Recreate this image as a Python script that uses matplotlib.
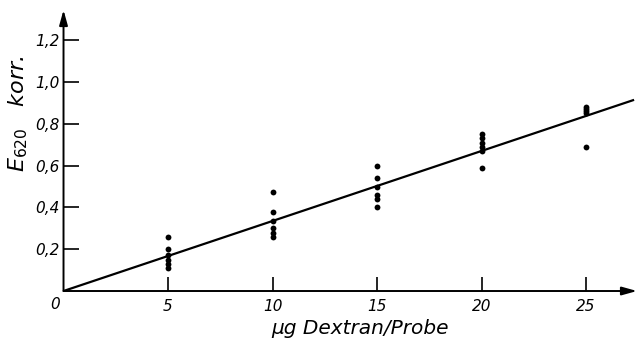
import matplotlib.pyplot as plt

plt.rcParams['font.family'] = ['DejaVu Sans']
plt.rcParams['mathtext.fontset'] = 'dejavusans'

# Messpunkte
x5 = [5] * 6
y5 = [0.26, 0.20, 0.17, 0.15, 0.13, 0.11]
x10 = [10] * 6
y10 = [0.475, 0.38, 0.335, 0.30, 0.28, 0.26]
x15 = [15] * 6
y15 = [0.60, 0.54, 0.50, 0.46, 0.44, 0.40]
x20 = [20] * 6
y20 = [0.75, 0.73, 0.71, 0.69, 0.67, 0.59]
x25 = [25] * 5
y25 = [0.88, 0.87, 0.86, 0.85, 0.69]

# Ausgleichsgerade
line_x = [0, 27.3]
line_y = [0, 0.915]

xticks = [5, 10, 15, 20, 25]
yticks = [0.2, 0.4, 0.6, 0.8, 1.0, 1.2]
ylabels = ['0,2', '0,4', '0,6', '0,8', '1,0', '1,2']

fig = plt.figure(figsize=(6.39, 3.45), dpi=100)
ax = fig.add_axes([0.0994, 0.1565, 0.8975, 0.8145])
ax.set_xlim(0, 27.44)
ax.set_ylim(0, 1.345)

ax.plot(line_x, line_y, color='black', lw=1.6, solid_capstyle='butt')
for xs, ys in [(x5, y5), (x10, y10), (x15, y15), (x20, y20), (x25, y25)]:
    ax.plot(xs, ys, 'o', color='black', ms=4.2, mec='none')

for sp in ax.spines.values():
    sp.set_visible(False)

# Achsen mit Pfeilen
ax.annotate('', xy=(1, 0), xytext=(0, 0), xycoords='axes fraction',
            arrowprops=dict(arrowstyle='-|>,head_length=0.9,head_width=0.25',
                            color='black', lw=1.4, shrinkA=0, shrinkB=0))
ax.annotate('', xy=(0, 1), xytext=(0, 0), xycoords='axes fraction',
            arrowprops=dict(arrowstyle='-|>,head_length=0.9,head_width=0.25',
                            color='black', lw=1.4, shrinkA=0, shrinkB=0))

ax.set_xticks(xticks)
ax.set_xticklabels([str(t) for t in xticks], style='italic', fontsize=11)
ax.set_yticks(yticks)
ax.set_yticklabels(ylabels, style='italic', fontsize=11)
ax.tick_params(axis='x', direction='in', length=10, width=1.2, pad=6)
ax.tick_params(axis='y', direction='in', length=11, width=1.2, pad=3)
ax.text(-0.15, -0.03, '0', style='italic', fontsize=11, ha='right', va='top')

ax.set_xlabel('µg Dextran/Probe', style='italic', fontsize=14.5, labelpad=1)
ax.xaxis.set_label_coords(0.517, -0.1)
ax.set_ylabel(r'$\mathit{E}_{\mathit{620}}$   korr.', style='italic', fontsize=16)
ax.yaxis.set_label_coords(-0.058, 0.63)

fig.savefig('out.png', dpi=100)
